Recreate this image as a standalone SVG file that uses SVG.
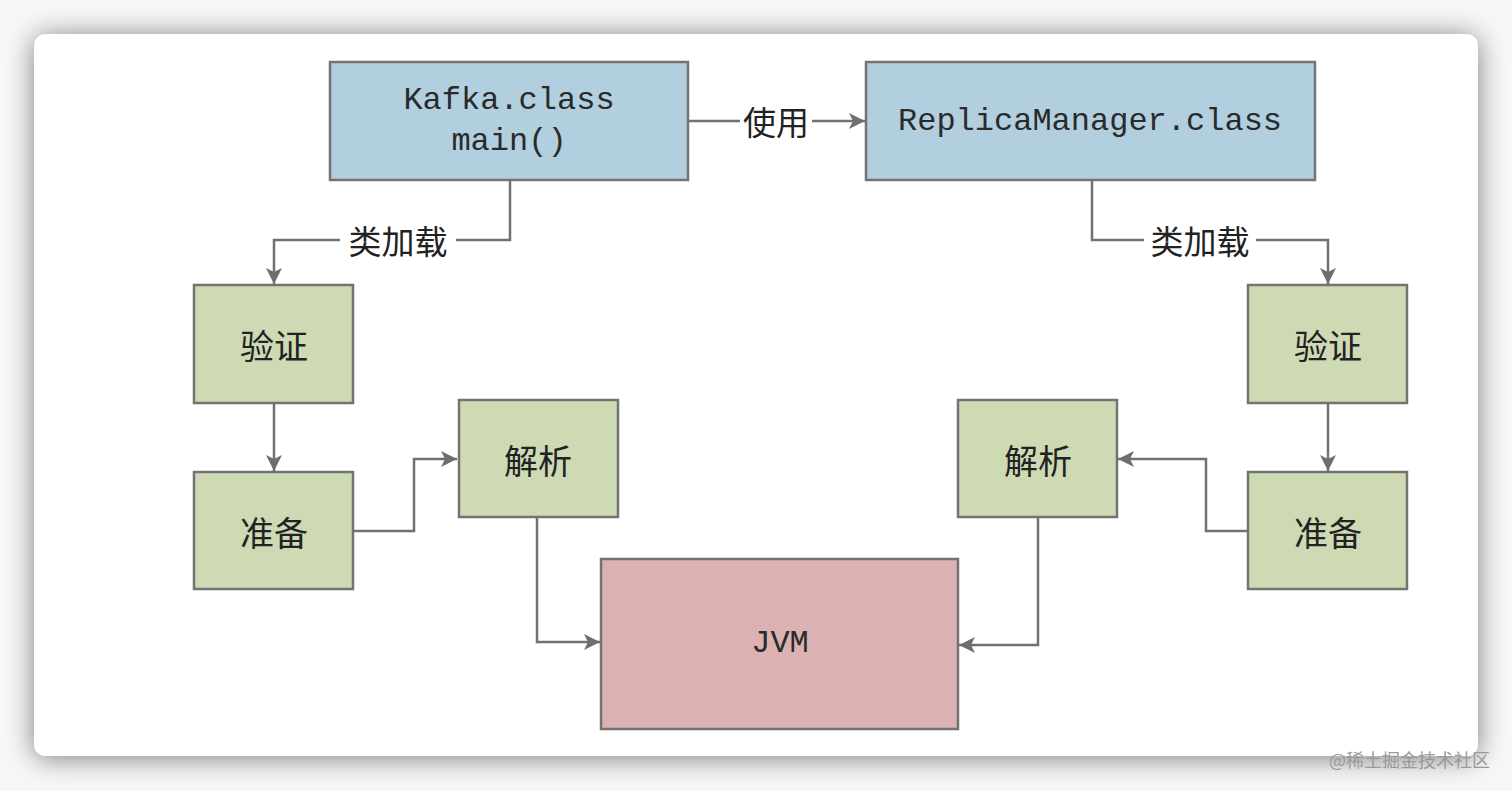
<svg xmlns="http://www.w3.org/2000/svg" width="1512" height="791" viewBox="0 0 1512 791">
<defs>
<filter id="shadow" x="-5%" y="-8%" width="110%" height="116%">
<feGaussianBlur in="SourceAlpha" stdDeviation="14"/>
<feOffset dx="0" dy="2" result="b"/>
<feComponentTransfer><feFuncA type="linear" slope="0.5"/></feComponentTransfer>
<feMerge><feMergeNode/><feMergeNode in="SourceGraphic"/></feMerge>
</filter>
<marker id="arr" markerUnits="userSpaceOnUse" markerWidth="18" markerHeight="18" viewBox="0 0 18 18" refX="17" refY="9" orient="auto">
<path d="M1,1 L17,9 L1,17 L5,9 Z" fill="#6e6e6e"/>
</marker>
<style>
.box{stroke:#737373;stroke-width:2.5}
.blue{fill:#b1cfdf}
.green{fill:#cddab3}
.pink{fill:#dbb1b1}
.mono{font-family:"Liberation Mono","DejaVu Sans Mono",monospace;font-size:32px;fill:#2a2a2a;text-anchor:middle;dominant-baseline:central}
.cjk{font-family:"Noto Sans CJK SC","Noto Sans",sans-serif;font-size:34px;fill:#222;text-anchor:middle;dominant-baseline:central}
.lab{font-family:"Noto Sans CJK SC","Noto Sans",sans-serif;font-size:33px;fill:#222;text-anchor:middle;dominant-baseline:central}
.con{fill:none;stroke:#717171;stroke-width:2.5}
</style>
</defs>
<rect x="0" y="0" width="1512" height="791" fill="#f7f7f7"/>
<rect x="34" y="34" width="1444" height="722" rx="12" fill="#ffffff" filter="url(#shadow)"/>

<g id="connectors">
<path class="con" d="M688,121 H740"/>
<path class="con" d="M812,121 H865" marker-end="url(#arr)"/>
<path class="con" d="M510,180 V240 H456"/>
<path class="con" d="M340,240 H274 V284" marker-end="url(#arr)"/>
<path class="con" d="M1092,180 V240 H1144"/>
<path class="con" d="M1256,240 H1328 V284" marker-end="url(#arr)"/>
<path class="con" d="M274,403 V471" marker-end="url(#arr)"/>
<path class="con" d="M1328,403 V471" marker-end="url(#arr)"/>
<path class="con" d="M353,531 H414 V459 H457" marker-end="url(#arr)"/>
<path class="con" d="M1248,531 H1206 V459 H1118" marker-end="url(#arr)"/>
<path class="con" d="M537,517 V642 H600" marker-end="url(#arr)"/>
<path class="con" d="M1038,517 V645 H959" marker-end="url(#arr)"/>
<text class="lab" x="776" y="121">使用</text>
<text class="lab" x="398" y="240">类加载</text>
<text class="lab" x="1200" y="240">类加载</text>
</g>

<g id="kafka">
<rect class="box blue" x="330" y="62" width="358" height="118"/>
<text class="mono" x="509" y="100">Kafka.class</text>
<text class="mono" x="509" y="141">main()</text>
</g>
<g id="replica">
<rect class="box blue" x="866" y="62" width="449" height="118"/>
<text class="mono" x="1090" y="121">ReplicaManager.class</text>
</g>
<g id="verify-left">
<rect class="box green" x="194" y="285" width="159" height="118"/>
<text class="cjk" x="274" y="344">验证</text>
</g>
<g id="prepare-left">
<rect class="box green" x="194" y="472" width="159" height="117"/>
<text class="cjk" x="274" y="531">准备</text>
</g>
<g id="resolve-left">
<rect class="box green" x="459" y="400" width="159" height="117"/>
<text class="cjk" x="538" y="459">解析</text>
</g>
<g id="verify-right">
<rect class="box green" x="1248" y="285" width="159" height="118"/>
<text class="cjk" x="1328" y="344">验证</text>
</g>
<g id="prepare-right">
<rect class="box green" x="1248" y="472" width="159" height="117"/>
<text class="cjk" x="1328" y="531">准备</text>
</g>
<g id="resolve-right">
<rect class="box green" x="958" y="400" width="159" height="117"/>
<text class="cjk" x="1038" y="459">解析</text>
</g>
<g id="jvm">
<rect class="box pink" x="601" y="559" width="357" height="170"/>
<text class="mono" x="780" y="643">JVM</text>
</g>
<text x="1490" y="759" font-family="Noto Sans CJK SC, Noto Sans, sans-serif" font-size="18" fill="#9a9a9a" text-anchor="end" dominant-baseline="central">@稀土掘金技术社区</text>
</svg>
